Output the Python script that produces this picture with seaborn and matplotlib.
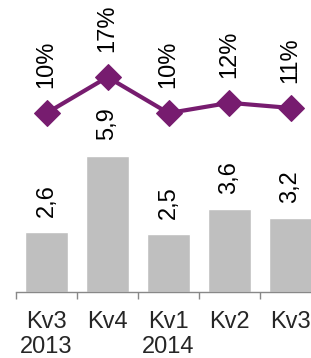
import matplotlib
matplotlib.use("Agg")
import matplotlib.pyplot as plt
import seaborn as sns
import pandas as pd
import numpy as np

categories = ["Kv3\n2013", "Kv4", "Kv1\n2014", "Kv2", "Kv3"]
bar_values = [2.6, 5.9, 2.5, 3.6, 3.2]
bar_labels = ["2,6", "5,9", "2,5", "3,6", "3,2"]
pct_values = [10, 17, 10, 12, 11]
pct_labels = ["10%", "17%", "10%", "12%", "11%"]

sns.set_style("white")
plt.rcParams["font.family"] = ["Liberation Sans", "DejaVu Sans"]

W, H = 311, 358
fig = plt.figure(figsize=(W / 100, H / 100), dpi=100)

left = 16 / W
width = 305 / W
base = (H - 292) / H

PURPLE = "#771C6F"
GREY = "#BFBFBF"
FS = 17

df = pd.DataFrame({"cat": categories, "val": bar_values, "pct": pct_values})

# bar axes
bar_top_px = 150
ax = fig.add_axes([left, base, width, (292 - bar_top_px) / H])
sns.barplot(data=df, x="cat", y="val", color=GREY, width=0.72, ax=ax,
            saturation=1, order=categories)
ax.set_xlim(-0.5, len(categories) - 0.5)
ax.set_ylim(0, (292 - bar_top_px) / 23.1)
for i, (v, lab) in enumerate(zip(bar_values, bar_labels)):
    ax.annotate(lab, (i, v), xytext=(0, 11), textcoords="offset points",
                rotation=90, ha="center", va="bottom", fontsize=FS,
                color="#000000", annotation_clip=False)

for s in ["top", "right", "left"]:
    ax.spines[s].set_visible(False)
ax.spines["bottom"].set_color("#888888")
ax.spines["bottom"].set_linewidth(1.0)
ax.set_yticks([])
ax.set_xlabel("")
ax.set_ylabel("")
ax.set_xticks(np.arange(len(categories) + 1) - 0.5)
ax.set_xticklabels([])
ax.set_xticks(np.arange(len(categories)), minor=True)
ax.set_xticklabels(categories, minor=True, fontsize=FS, linespacing=1.15)
ax.tick_params(axis="x", which="major", length=5, width=1.0, color="#888888",
               direction="out", bottom=True)
ax.tick_params(axis="x", which="minor", length=0, pad=14, bottom=True)
ax.patch.set_alpha(0)

# line axes
ax2 = fig.add_axes([left, base, width, 292 / H])
sns.lineplot(x=np.arange(len(categories)), y=pct_values, ax=ax2, color=PURPLE,
             linewidth=3.0, marker="D", markersize=13, markeredgecolor=PURPLE,
             markerfacecolor=PURPLE)
ax2.set_xlim(-0.5, len(categories) - 0.5)
ax2.set_ylim(-24.8, 32.0)
for i, (v, lab) in enumerate(zip(pct_values, pct_labels)):
    ax2.annotate(lab, (i, v), xytext=(0, 18), textcoords="offset points",
                 rotation=90, ha="center", va="bottom", fontsize=FS,
                 color="#000000", annotation_clip=False)
ax2.axis("off")
ax2.patch.set_alpha(0)

fig.savefig("out.png", dpi=100)
